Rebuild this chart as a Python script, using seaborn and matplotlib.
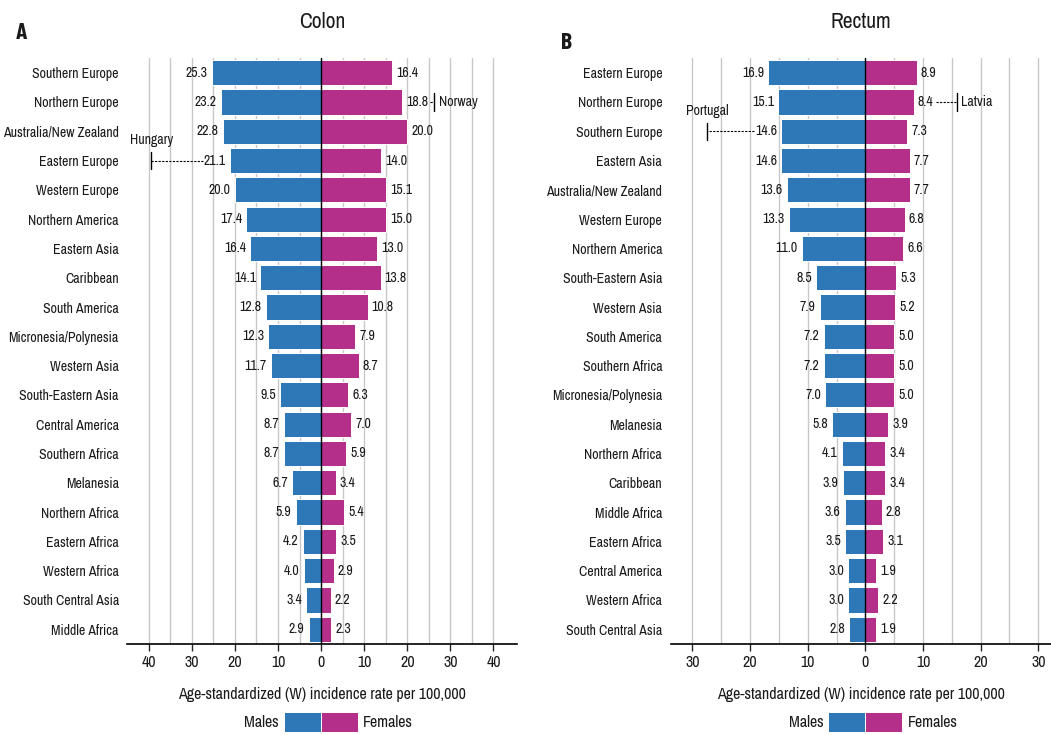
import numpy as np
import pandas as pd
import matplotlib
matplotlib.use("Agg")
import matplotlib.pyplot as plt
from matplotlib.patches import Rectangle
import seaborn as sns

# ---- data ----
colon_regions = ["Southern Europe", "Northern Europe", "Australia/New Zealand", "Eastern Europe",
                 "Western Europe", "Northern America", "Eastern Asia", "Caribbean", "South America",
                 "Micronesia/Polynesia", "Western Asia", "South-Eastern Asia", "Central America",
                 "Southern Africa", "Melanesia", "Northern Africa", "Eastern Africa", "Western Africa",
                 "South Central Asia", "Middle Africa"]
colon_males = [25.3, 23.2, 22.8, 21.1, 20.0, 17.4, 16.4, 14.1, 12.8, 12.3,
               11.7, 9.5, 8.7, 8.7, 6.7, 5.9, 4.2, 4.0, 3.4, 2.9]
colon_females = [16.4, 18.8, 20.0, 14.0, 15.1, 15.0, 13.0, 13.8, 10.8, 7.9,
                 8.7, 6.3, 7.0, 5.9, 3.4, 5.4, 3.5, 2.9, 2.2, 2.3]

rectum_regions = ["Eastern Europe", "Northern Europe", "Southern Europe", "Eastern Asia",
                  "Australia/New Zealand", "Western Europe", "Northern America", "South-Eastern Asia",
                  "Western Asia", "South America", "Southern Africa", "Micronesia/Polynesia",
                  "Melanesia", "Northern Africa", "Caribbean", "Middle Africa", "Eastern Africa",
                  "Central America", "Western Africa", "South Central Asia"]
rectum_males = [16.9, 15.1, 14.6, 14.6, 13.6, 13.3, 11.0, 8.5, 7.9, 7.2,
                7.2, 7.0, 5.8, 4.1, 3.9, 3.6, 3.5, 3.0, 3.0, 2.8]
rectum_females = [8.9, 8.4, 7.3, 7.7, 7.7, 6.8, 6.6, 5.3, 5.2, 5.0,
                  5.0, 5.0, 3.9, 3.4, 3.4, 2.8, 3.1, 1.9, 2.2, 1.9]

# highest country rate within a region: (country, region, sex, rate)
colon_highlights = [("Hungary", "Eastern Europe", "Males", 39.4),
                    ("Norway", "Northern Europe", "Females", 26.3)]
rectum_highlights = [("Portugal", "Southern Europe", "Males", 27.4),
                     ("Latvia", "Northern Europe", "Females", 15.9)]

BLUE = "#2e78b8"
MAGENTA = "#b32f8a"
FS = 10
TXT = "#1a1a1a"

sns.set_style("white")
plt.rcParams["font.family"] = ["Archivo Narrow", "Liberation Sans", "DejaVu Sans"]
plt.rcParams["text.color"] = TXT

fig = plt.figure(figsize=(10.51, 7.35), dpi=100)


def pyramid(ax, regions, males, females, highlights, xlim, ticks, title):
    df = pd.DataFrame({
        "region": regions * 2,
        "sex": ["Males"] * len(regions) + ["Females"] * len(regions),
        "rate": [-m for m in males] + list(females),
    })
    sns.barplot(data=df, x="rate", y="region", hue="sex", order=regions, dodge=False,
                palette={"Males": BLUE, "Females": MAGENTA}, width=0.86, saturation=1,
                edgecolor="white", linewidth=0.7, errorbar=None, legend=False, ax=ax, zorder=3)
    ax.set_xlim(*xlim)
    ax.set_ylim(len(regions) - 0.5, -0.5)
    ax.set_xticks(ticks)
    ax.set_xticklabels([str(abs(t)) for t in ticks])
    ax.set_xticks(np.arange(ticks[0], ticks[-1] + 1, 5), minor=True)
    ax.grid(which="both", axis="x", color="#c8c8c8", lw=1, zorder=0)
    ax.grid(axis="y", visible=False)
    ax.axvline(0, color="black", lw=1, zorder=4)
    for s in ["top", "left", "right"]:
        ax.spines[s].set_visible(False)
    ax.spines["bottom"].set_color("black")
    ax.spines["bottom"].set_linewidth(1.2)
    ax.tick_params(axis="x", which="major", direction="out", length=5, width=1,
                   labelsize=11.5, pad=3, bottom=True, labelcolor=TXT)
    ax.tick_params(axis="x", which="minor", length=0)
    ax.tick_params(axis="y", length=0, labelsize=FS, pad=6, labelcolor=TXT)
    ax.set_ylabel("")
    ax.set_xlabel("Age-standardized (W) incidence rate per 100,000", fontsize=11.5, labelpad=12,
                  color=TXT)
    ax.set_title(title, fontsize=15.5, pad=22)

    labels = {}
    for i, (m, f) in enumerate(zip(males, females)):
        labels[(regions[i], "Males")] = ax.annotate(
            f"{m:.1f}", (-m, i), xytext=(-3, 0), textcoords="offset points",
            ha="right", va="center", fontsize=FS, zorder=5)
        labels[(regions[i], "Females")] = ax.annotate(
            f"{f:.1f}", (f, i), xytext=(3, 0), textcoords="offset points",
            ha="left", va="center", fontsize=FS, zorder=5)

    fig.canvas.draw()
    renderer = fig.canvas.get_renderer()
    inv = ax.transData.inverted()
    for name, region, sex, rate in highlights:
        i = regions.index(region)
        bb = labels[(region, sex)].get_window_extent(renderer)
        if sex == "Males":
            x_mark = -rate
            x_start = inv.transform((bb.x0 - 1, 0))[0]
        else:
            x_mark = rate
            x_start = inv.transform((bb.x1 + 2, 0))[0]
        ax.plot([x_start, x_mark], [i, i], color="black", lw=0.8, ls=(0, (2, 1.2)), zorder=5)
        ax.plot([x_mark, x_mark], [i - 0.3, i + 0.3], color="black", lw=1, zorder=5)
        if sex == "Males":
            ax.text(x_mark, i - 0.7, name, ha="center", va="center", fontsize=FS)
        else:
            ax.annotate(name, (x_mark, i), xytext=(3, 0), textcoords="offset points",
                        ha="left", va="center", fontsize=FS)

    # Males | Females key centred on the zero line
    x0 = fig.transFigure.inverted().transform(ax.transData.transform((0, 0)))[0]
    w, h, yb = 37 / 1051, 20 / 735, 0.004
    fig.patches.append(Rectangle((x0 - w, yb), w, h, transform=fig.transFigure,
                                 facecolor=BLUE, edgecolor="white", lw=0.7))
    fig.patches.append(Rectangle((x0, yb), w, h, transform=fig.transFigure,
                                 facecolor=MAGENTA, edgecolor="white", lw=0.7))
    fig.text(x0 - w - 0.005, yb + h / 2, "Males", ha="right", va="center", fontsize=11.5)
    fig.text(x0 + w + 0.005, yb + h / 2, "Females", ha="left", va="center", fontsize=11.5)


ax1 = fig.add_axes([0.121, 0.124, 0.371, 0.797])
pyramid(ax1, colon_regions, colon_males, colon_females, colon_highlights,
        (-45, 45.5), list(range(-40, 41, 10)), "Colon")

ax2 = fig.add_axes([0.638, 0.124, 0.362, 0.797])
pyramid(ax2, rectum_regions, rectum_males, rectum_females, rectum_highlights,
        (-33.8, 32.2), list(range(-30, 31, 10)), "Rectum")

panel_font = ["Barlow Condensed", "Liberation Sans", "DejaVu Sans"]
fig.text(0.015, 0.955, "A", fontsize=17, fontweight="bold", va="center", family=panel_font)
fig.text(0.534, 0.942, "B", fontsize=17, fontweight="bold", va="center", family=panel_font)

fig.savefig("out.png", dpi=100)
